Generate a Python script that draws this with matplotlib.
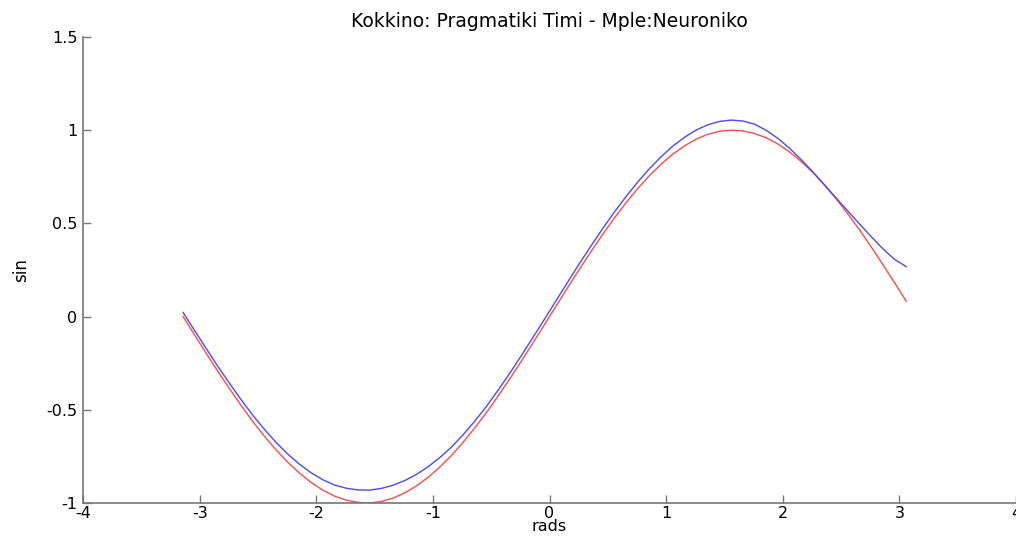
import numpy as np
import matplotlib
matplotlib.use("Agg")
import matplotlib.pyplot as plt

plt.rcParams['font.family'] = ['DejaVu Sans']
plt.rcParams['axes.unicode_minus'] = False

# sample points (rads), step 0.1 starting at -pi
x_rads = [-3.142, -3.042, -2.942, -2.842, -2.742, -2.642, -2.542, -2.442, -2.342, -2.242,
          -2.142, -2.042, -1.942, -1.842, -1.742, -1.642, -1.542, -1.442, -1.342, -1.242,
          -1.142, -1.042, -0.942, -0.842, -0.742, -0.642, -0.542, -0.442, -0.342, -0.242,
          -0.142, -0.042, 0.058, 0.158, 0.258, 0.358, 0.458, 0.558, 0.658, 0.758,
          0.858, 0.958, 1.058, 1.158, 1.258, 1.358, 1.458, 1.558, 1.658, 1.758,
          1.858, 1.958, 2.058, 2.158, 2.258, 2.358, 2.458, 2.558, 2.658, 2.758,
          2.858, 2.958, 3.058]

# red: real value
real_vals = [0.000, -0.100, -0.199, -0.296, -0.389, -0.479, -0.565, -0.644, -0.717, -0.783,
             -0.841, -0.891, -0.932, -0.964, -0.985, -0.997, -1.000, -0.992, -0.974, -0.946,
             -0.909, -0.863, -0.808, -0.746, -0.675, -0.598, -0.516, -0.427, -0.335, -0.239,
             -0.141, -0.042, 0.058, 0.158, 0.256, 0.351, 0.443, 0.530, 0.612, 0.688,
             0.757, 0.818, 0.872, 0.916, 0.952, 0.978, 0.994, 1.000, 0.996, 0.982,
             0.959, 0.926, 0.883, 0.832, 0.773, 0.706, 0.631, 0.551, 0.465, 0.374,
             0.279, 0.182, 0.083]

# blue: network output
net_vals = [0.022, -0.076, -0.173, -0.269, -0.360, -0.448, -0.531, -0.607, -0.677, -0.739,
            -0.793, -0.839, -0.876, -0.904, -0.921, -0.930, -0.931, -0.922, -0.905, -0.880,
            -0.847, -0.806, -0.757, -0.701, -0.635, -0.562, -0.483, -0.396, -0.305, -0.210,
            -0.112, -0.013, 0.087, 0.187, 0.286, 0.381, 0.474, 0.562, 0.645, 0.723,
            0.794, 0.858, 0.915, 0.962, 1.001, 1.029, 1.047, 1.054, 1.049, 1.032,
            0.999, 0.956, 0.903, 0.842, 0.776, 0.706, 0.636, 0.566, 0.497, 0.429,
            0.364, 0.307, 0.268]

fig = plt.figure(figsize=(10.16, 5.38), dpi=100)
ax = fig.add_axes([0.0817, 0.0651, 0.9183, 0.8662])

ax.plot(x_rads, real_vals, color='#ff4a4a', lw=1.0)
ax.plot(x_rads, net_vals, color='#4a4aff', lw=1.0)

ax.set_xlim(-4, 4)
ax.set_ylim(-1, 1.5)
ax.set_xticks(np.arange(-4, 5, 1))
ax.set_yticks([-1, -0.5, 0, 0.5, 1, 1.5])
ax.set_yticklabels(['-1', '-0.5', '0', '0.5', '1', '1.5'])

for s in ['top', 'right']:
    ax.spines[s].set_visible(False)
for s in ['left', 'bottom']:
    ax.spines[s].set_color('#777777')
    ax.spines[s].set_linewidth(1.2)
ax.tick_params(direction='in', length=6, width=1.0, color='#777777',
               labelsize=11.5, pad=4)
ax.tick_params(axis='x', pad=2)

ax.set_title('Kokkino: Pragmatiki Timi - Mple:Neuroniko', fontsize=13.5, pad=7)
ax.set_xlabel('rads', fontsize=11.5, labelpad=-1)
ax.set_ylabel('sin', fontsize=12, labelpad=12)

fig.savefig('out.png', dpi=100)
